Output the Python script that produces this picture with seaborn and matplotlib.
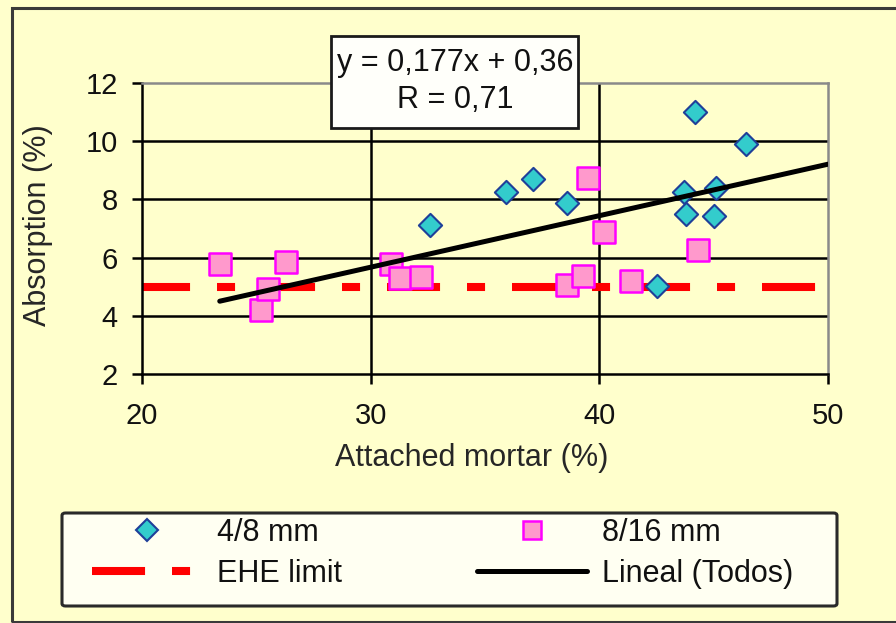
import matplotlib
matplotlib.use("Agg")
import matplotlib.pyplot as plt
import seaborn as sns
import pandas as pd
from matplotlib.lines import Line2D
from matplotlib.patches import Rectangle, FancyBboxPatch

# Attached mortar (%) and water absorption (%) for each recycled aggregate fraction
mortar_48 = [32.6, 35.9, 37.1, 38.6, 42.5, 43.7, 43.8, 44.2, 45.0, 45.1, 46.4]
absorp_48 = [7.12, 8.25, 8.70, 7.88, 5.02, 8.25, 7.50, 11.0, 7.43, 8.40, 9.90]

mortar_816 = [23.4, 25.2, 25.5, 26.3, 30.9, 31.3, 32.2, 38.6, 39.3, 39.5, 40.2, 41.4, 44.3]
absorp_816 = [5.78, 4.20, 4.92, 5.85, 5.78, 5.30, 5.33, 5.06, 5.37, 8.74, 6.88, 5.20, 6.26]

# Linear trend over all samples and the EHE absorption limit
slope, intercept, r_value = 0.177, 0.36, 0.71
ehe_limit = 5.0

x_ticks = [20, 30, 40, 50]
y_ticks = [2, 4, 6, 8, 10, 12]

BG = "#FFFFCC"
CYAN, NAVY = "#33CCCC", "#1F3F99"
PINK, MAGENTA = "#FF99CC", "#FF00FF"

sns.set_style("white")
plt.rcParams["font.family"] = ["Liberation Sans", "DejaVu Sans"]
plt.rcParams["lines.scale_dashes"] = False
plt.rcParams["text.color"] = "#111111"

W, H = 896, 623
fig = plt.figure(figsize=(W / 100, H / 100), dpi=100, facecolor=BG)


def fx(px):
    return px / W


def fy(py):
    return 1 - py / H


ax = fig.add_axes([fx(142), fy(374), fx(828) - fx(142), fy(83) - fy(374)])
ax.set_facecolor(BG)

df48 = pd.DataFrame({"mortar": mortar_48, "absorption": absorp_48})
df816 = pd.DataFrame({"mortar": mortar_816, "absorption": absorp_816})

# EHE limit (long-short dash)
ehe_style = (3.6, (38.2, 19.4, 13.0, 19.4))
ax.plot([x_ticks[0], x_ticks[-1]], [ehe_limit, ehe_limit], color="red", lw=5.8,
        linestyle=ehe_style, zorder=2, solid_capstyle="butt")

sns.scatterplot(data=df816, x="mortar", y="absorption", marker="s", s=240,
                color=PINK, edgecolor=MAGENTA, linewidth=1.8, ax=ax, zorder=3)
sns.scatterplot(data=df48, x="mortar", y="absorption", marker="D", s=140,
                color=CYAN, edgecolor=NAVY, linewidth=1.5, ax=ax, zorder=4)

# Trend line from the smallest mortar content to the end of the axis
x_fit = [min(mortar_48 + mortar_816), x_ticks[-1]]
y_fit = [slope * v + intercept for v in x_fit]
sns.lineplot(x=x_fit, y=y_fit, color="black", lw=3.6, ax=ax, zorder=5)

ax.set_xlim(x_ticks[0], x_ticks[-1])
ax.set_ylim(y_ticks[0], y_ticks[-1])
ax.set_xticks(x_ticks)
ax.set_yticks(y_ticks)
ax.grid(True, color="black", lw=1.8, zorder=1)
ax.set_axisbelow(True)
for gl in (ax.get_xgridlines()[0], ax.get_xgridlines()[-1],
           ax.get_ygridlines()[0], ax.get_ygridlines()[-1]):
    gl.set_visible(False)

for side in ("left", "bottom"):
    ax.spines[side].set_color("black")
    ax.spines[side].set_linewidth(1.8)
for side in ("top", "right"):
    ax.spines[side].set_color("#8a8a8a")
    ax.spines[side].set_linewidth(1.8)

ax.tick_params(axis="both", direction="out", length=7.5, width=1.8, color="black",
               labelsize=21, labelcolor="#111111")
ax.tick_params(axis="y", pad=10, left=True)
ax.tick_params(axis="x", pad=13, bottom=True)

ax.set_xlabel("Attached mortar (%)", fontsize=22)
ax.set_ylabel("Absorption (%)", fontsize=22)
ax.xaxis.set_label_coords((472 - 142) / 686, (374 - 458) / 291)
ax.xaxis.label.set_va("center")
ax.yaxis.set_label_coords((38 - 142) / 686, (374 - 225) / 291)
ax.yaxis.label.set_va("center")
ax.yaxis.label.set_ha("center")

# Outer chart frame (runs off the right edge)
fig.patches.append(Rectangle((fx(12), fy(622)), fx(920) - fx(12), fy(8) - fy(622),
                             transform=fig.transFigure, facecolor="none",
                             edgecolor="#3a3a3a", lw=2.2, zorder=0.5))

# Equation box
fig.patches.append(Rectangle((fx(331), fy(128)), fx(578) - fx(331), fy(36) - fy(128),
                             transform=fig.transFigure, facecolor="#FFFFFA",
                             edgecolor="#1a1a1a", lw=2.0, zorder=6))
eq = f"y = {slope:.3f}x + {intercept:.2f}".replace(".", ",")
rr = f"R = {r_value:.2f}".replace(".", ",")
fig.text(fx(455), fy(63), eq, ha="center", va="center", fontsize=22, zorder=7)
fig.text(fx(455), fy(100), rr, ha="center", va="center", fontsize=22, zorder=7)

# Legend frame and entries
fig.patches.append(FancyBboxPatch((fx(62), fy(606)), fx(837) - fx(62), fy(513) - fy(606),
                                  boxstyle="round,pad=0,rounding_size=0.004",
                                  transform=fig.transFigure, facecolor="#FFFFF2",
                                  edgecolor="#2a2a2a", lw=2.2, zorder=6))
handles = [
    Line2D([], [], ls="none", marker="D", ms=11, mfc=CYAN, mec=NAVY, mew=1.5),
    Line2D([], [], color="red", lw=5.8, linestyle=(0, (38.2, 19.4, 13.0, 19.4))),
    Line2D([], [], ls="none", marker="s", ms=12.5, mfc=PINK, mec=MAGENTA, mew=1.8),
    Line2D([], [], color="black", lw=3.6),
]
labels = ["4/8 mm", "EHE limit", "8/16 mm", "Lineal (Todos)"]
leg = fig.legend(handles, labels, ncol=2, frameon=False, fontsize=22,
                 loc="upper left", bbox_to_anchor=(fx(92), fy(518)),
                 borderpad=0, borderaxespad=0, handlelength=3.6,
                 handletextpad=0.5, columnspacing=4.4, labelspacing=0.35)
leg.set_zorder(7)

fig.savefig("out.png", dpi=100, facecolor=BG)
